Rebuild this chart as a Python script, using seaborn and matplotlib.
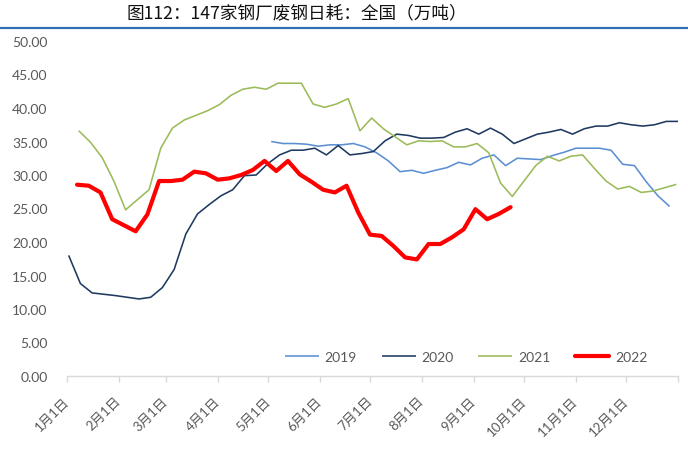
import matplotlib
matplotlib.use("Agg")
import matplotlib.pyplot as plt
from matplotlib.lines import Line2D
from matplotlib.ticker import FuncFormatter
import numpy as np
import pandas as pd
import seaborn as sns

# ---------------- data ----------------
title = "图112：147家钢厂废钢日耗：全国（万吨）"
series_names = ["2019", "2020", "2021", "2022"]
start_2019 = "2019-05-03"
start_2020 = "2020-01-02"
start_2021 = "2021-01-08"
start_2022 = "2022-01-07"

v2019 = [35.0, 34.7, 34.7, 34.6, 34.3, 34.5, 34.5, 34.7, 34.2, 33.3,
         32.1, 30.5, 30.7, 30.25, 30.7, 31.1, 31.9, 31.5, 32.5, 33.0,
         31.4, 32.5, 32.4, 32.3, 32.9, 33.4, 34.0, 34.0, 34.0, 33.7,
         31.6, 31.4, 29.0, 26.9, 25.3]
v2020 = [18.0, 13.8, 12.4, 12.2, 12.0, 11.75, 11.5, 11.75, 13.2, 15.9,
         21.2, 24.2, 25.6, 26.9, 27.8, 29.9, 30.0, 31.7, 33.0, 33.7,
         33.7, 34.0, 33.0, 34.4, 33.0, 33.2, 33.5, 35.1, 36.1, 35.9,
         35.5, 35.5, 35.6, 36.4, 36.9, 36.1, 37.0, 36.1, 34.7, 35.4,
         36.1, 36.4, 36.8, 36.1, 36.9, 37.3, 37.3, 37.8, 37.5, 37.3,
         37.5, 38.0, 38.0]
v2021 = [36.6, 34.9, 32.6, 29.1, 24.8, 26.3, 27.8, 34.0, 37.0, 38.2,
         38.9, 39.6, 40.5, 41.9, 42.8, 43.1, 42.8, 43.7, 43.7, 43.7,
         40.6, 40.1, 40.6, 41.4, 36.6, 38.5, 36.9, 35.7, 34.5, 35.1,
         35.0, 35.1, 34.2, 34.2, 34.7, 33.3, 28.8, 26.8, 29.1, 31.4,
         32.8, 32.1, 32.8, 33.0, 31.0, 29.1, 27.9, 28.3, 27.4, 27.6,
         28.1, 28.6]
v2022 = [28.55, 28.4, 27.4, 23.4, 22.5, 21.6, 24.1, 29.1, 29.1, 29.3,
         30.5, 30.25, 29.3, 29.5, 30.0, 30.75, 32.1, 30.6, 32.1, 30.1,
         29.0, 27.8, 27.4, 28.4, 24.4, 21.1, 20.9, 19.4, 17.7, 17.4,
         19.7, 19.7, 20.7, 21.9, 24.9, 23.4, 24.2, 25.2]

month_labels = ["1月1日", "2月1日", "3月1日", "4月1日", "5月1日", "6月1日",
                "7月1日", "8月1日", "9月1日", "10月1日", "11月1日", "12月1日"]
y_ticks = [0, 5, 10, 15, 20, 25, 30, 35, 40, 45, 50]

colors = {"2019": "#5b8fd2", "2020": "#1f3a60", "2021": "#9bbb59", "2022": "#ff0000"}
widths = {"2019": 1.15, "2020": 1.15, "2021": 1.15, "2022": 3.0}

# ---------------- build long table on a common display year ----------------
display_year_start = pd.Timestamp("2022-01-01")
frames = []
for name, start, vals in [("2019", start_2019, v2019), ("2020", start_2020, v2020),
                          ("2021", start_2021, v2021), ("2022", start_2022, v2022)]:
    d = pd.date_range(start, periods=len(vals), freq="7D")
    jan1 = pd.Timestamp(year=d[0].year, month=1, day=1)
    offs = (d - jan1).days
    x = display_year_start + pd.to_timedelta(offs, unit="D")
    frames.append(pd.DataFrame({"date": x, "value": vals, "year": name}))
df = pd.concat(frames, ignore_index=True)

# ---------------- figure ----------------
sns.set_theme(style="white")
plt.rcParams["font.family"] = ["Lato", "Noto Sans CJK SC", "DejaVu Sans"]

fig = plt.figure(figsize=(6.88, 4.52), dpi=100)
ax = fig.add_axes([67 / 688, 1 - 377 / 452, (678 - 67) / 688, (377 - 42) / 452])

for name in series_names:
    sub = df[df["year"] == name]
    sns.lineplot(data=sub, x="date", y="value", ax=ax, color=colors[name],
                 linewidth=widths[name], label=name, clip_on=False,
                 solid_capstyle="round" if name == "2022" else "butt")

ax.set_xlim(display_year_start, pd.Timestamp("2023-01-01"))
ax.set_ylim(0, 50)
ax.set_xlabel("")
ax.set_ylabel("")

tick_dates = pd.date_range("2022-01-01", periods=13, freq="MS")
ax.set_xticks(tick_dates)
ax.set_xticklabels(month_labels + [""])
ax.set_yticks(y_ticks)
ax.yaxis.set_major_formatter(FuncFormatter(lambda v, p: f"{v:.2f}"))

for s in ["left", "top", "right"]:
    ax.spines[s].set_visible(False)
ax.spines["bottom"].set_color("#d9d9d9")
ax.spines["bottom"].set_linewidth(1.0)

ax.tick_params(axis="y", length=0, pad=14, labelsize=10, labelcolor="#595959")
ax.tick_params(axis="x", length=4, width=1.0, color="#d9d9d9", direction="out",
               pad=12, labelsize=9.5, labelcolor="#595959", bottom=True)
for lab in ax.get_xticklabels():
    lab.set_rotation(45)
    lab.set_ha("right")
    lab.set_va("center")
    lab.set_rotation_mode("anchor")
    lab.set_family(["Lato", "Noto Sans CJK SC"])

leg = ax.legend(loc="center", bbox_to_anchor=(466 / 688, 1 - 358 / 452),
                bbox_transform=fig.transFigure, ncol=4, frameon=False,
                handlelength=2.45, handletextpad=0.4, columnspacing=1.8,
                fontsize=10)
for t in leg.get_texts():
    t.set_color("#595959")

fig.text(127 / 688, 1 - 13 / 452, title, ha="left", va="center", fontsize=12.7,
         color="#111111", family=["Noto Sans CJK SC", "DejaVu Sans"])
fig.add_artist(Line2D([0, 1], [1 - 29 / 452, 1 - 29 / 452], transform=fig.transFigure,
                      color="#2e6fb5", linewidth=1.6))

fig.savefig("out.png", dpi=100)
